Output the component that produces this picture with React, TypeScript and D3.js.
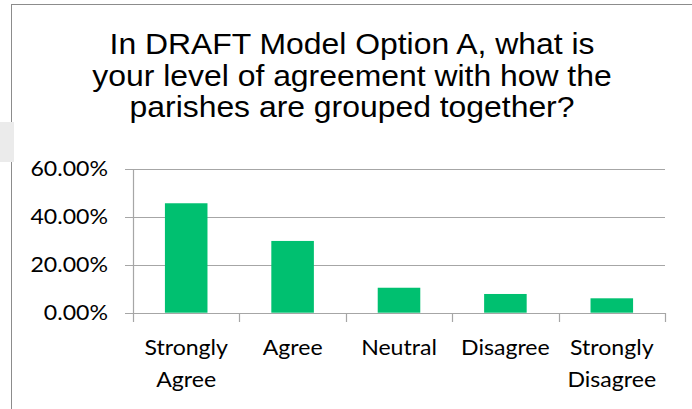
import * as d3 from "d3";
import { useEffect, useRef } from "react";

const categories = ["Strongly Agree", "Agree", "Neutral", "Disagree", "Strongly Disagree"];
const categoryLines = [["Strongly", "Agree"], ["Agree"], ["Neutral"], ["Disagree"], ["Strongly", "Disagree"]];
const values = [45.6, 29.9, 10.4, 7.8, 6.0];
const yTicks = [0, 20, 40, 60];
const titleLines = [
    "In DRAFT Model Option A, what is",
    "your level of agreement with how the",
    "parishes are grouped together?",
];

const App = () => {
    const ref = useRef<SVGSVGElement>(null);

    useEffect(() => {
        const svg = d3.select(ref.current);
        svg.selectChildren().remove();

        const width = 692;
        const height = 409;
        const plot = { left: 133, right: 665, top: 168.7, bottom: 312.7 };
        const stretch = 1.1;
        const labelFont = "Lato, 'Open Sans', sans-serif";
        const gridColor = "#a6a6a6";

        // frame of the chart box
        svg.append("line")
            .attr("x1", 11).attr("x2", width).attr("y1", 4.5).attr("y2", 4.5)
            .attr("stroke", "#8c8c8c").attr("stroke-width", 1);
        svg.append("line")
            .attr("x1", 11.5).attr("x2", 11.5).attr("y1", 4).attr("y2", height)
            .attr("stroke", "#8c8c8c").attr("stroke-width", 1);
        svg.append("rect")
            .attr("x", 0).attr("y", 122).attr("width", 14).attr("height", 40)
            .attr("fill", "#ebebeb");

        // title
        const title = svg.append("g")
            .attr("transform", `translate(352, 0) scale(${stretch}, 1)`);
        title.selectAll("text")
            .data(titleLines)
            .join("text")
            .attr("x", 0)
            .attr("y", (d, i) => 54.3 + i * 31.3)
            .attr("text-anchor", "middle")
            .attr("font-family", "'Liberation Sans', Arial, sans-serif")
            .attr("font-size", 29)
            .attr("fill", "#000")
            .text(d => d);

        const x = d3.scaleBand()
            .domain(categories)
            .range([plot.left, plot.right])
            .padding(0);

        const y = d3.scaleLinear()
            .domain([0, 60])
            .range([plot.bottom, plot.top]);

        // gridlines + y tick marks
        svg.append("g")
            .selectAll("line")
            .data(yTicks)
            .join("line")
            .attr("x1", plot.left - 8)
            .attr("x2", plot.right)
            .attr("y1", d => Math.round(y(d)) + 0.5)
            .attr("y2", d => Math.round(y(d)) + 0.5)
            .attr("stroke", gridColor)
            .attr("stroke-width", 1.2);

        // y axis line
        svg.append("line")
            .attr("x1", plot.left + 0.5).attr("x2", plot.left + 0.5)
            .attr("y1", Math.round(y(60)) + 0.5).attr("y2", Math.round(y(0)) + 0.5)
            .attr("stroke", gridColor).attr("stroke-width", 1.2);

        // x tick marks at category boundaries
        const bounds = categories.map(c => x(c)).concat([plot.right]);
        svg.append("g")
            .selectAll("line")
            .data(bounds)
            .join("line")
            .attr("x1", d => Math.round(d) + 0.5)
            .attr("x2", d => Math.round(d) + 0.5)
            .attr("y1", Math.round(y(0)))
            .attr("y2", Math.round(y(0)) + 9)
            .attr("stroke", gridColor)
            .attr("stroke-width", 1.2);

        // bars, gap width 150%
        const barW = x.bandwidth() / 2.5;
        svg.append("g")
            .selectAll("rect")
            .data(values)
            .join("rect")
            .attr("x", (d, i) => x(categories[i]) + (x.bandwidth() - barW) / 2)
            .attr("width", barW)
            .attr("y", d => y(d))
            .attr("height", d => y(0) - y(d))
            .attr("fill", "#00c070");

        // y labels
        svg.append("g")
            .selectAll("g")
            .data(yTicks)
            .join("g")
            .attr("transform", d => `translate(108, ${y(d)}) scale(${stretch}, 1)`)
            .append("text")
            .attr("text-anchor", "end")
            .attr("dy", "0.36em")
            .attr("font-family", labelFont)
            .attr("font-size", 21)
            .attr("fill", "#000")
            .text(d => d3.format(".2f")(d) + "%");

        // category labels
        const cat = svg.append("g")
            .selectAll("g")
            .data(categoryLines)
            .join("g")
            .attr("transform", (d, i) => `translate(${x(categories[i]) + x.bandwidth() / 2}, 0) scale(${stretch}, 1)`);
        cat.selectAll("text")
            .data(d => d)
            .join("text")
            .attr("x", 0)
            .attr("y", (d, i) => 355 + i * 32)
            .attr("text-anchor", "middle")
            .attr("font-family", labelFont)
            .attr("font-size", 21)
            .attr("fill", "#000")
            .text(d => d);
    });

    return (
        <svg ref={ref} width={692} height={409}
            style={{ position: "absolute", left: 0, top: 0, background: "#fff" }} />
    );
};

export default App;
